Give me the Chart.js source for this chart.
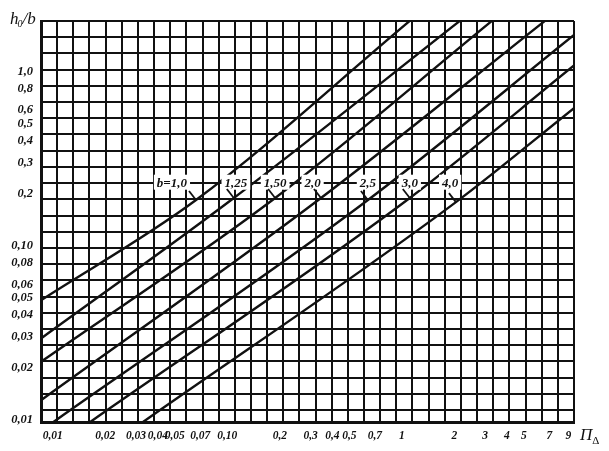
<!DOCTYPE html>
<html>
<head>
<meta charset="utf-8">
<script src="https://cdn.jsdelivr.net/npm/chart.js@4.4.0/dist/chart.umd.min.js"></script>
<style>
  html, body { margin: 0; padding: 0; background: #fff; }
  #wrap { width: 609px; height: 451px; position: relative; }
</style>
</head>
<body>
<div id="wrap"><canvas id="chart"></canvas></div>
<script>
// axis ranges (log scales)
const xMin = 0.00857, xMax = 9.68;
const yMin = 0.00975, yMax = 1.947;

const xTickValues = [0.01, 0.02, 0.03, 0.04, 0.05, 0.07, 0.1, 0.2, 0.3, 0.4, 0.5, 0.7, 1, 2, 3, 4, 5, 7, 9];
const xTickLabels = ['0,01', '0,02', '0,03', '0,04', '0,05', '0,07', '0,10', '0,2', '0,3', '0,4', '0,5', '0,7', '1', '2', '3', '4', '5', '7', '9'];
const yTickValues = [1.0, 0.8, 0.6, 0.5, 0.4, 0.3, 0.2, 0.1, 0.08, 0.06, 0.05, 0.04, 0.03, 0.02, 0.01];
const yTickLabels = ['1,0', '0,8', '0,6', '0,5', '0,4', '0,3', '0,2', '0,10', '0,08', '0,06', '0,05', '0,04', '0,03', '0,02', '0,01'];

// one curve per b value: start, point under the label, end
const curveNames = ['b=1,0', '1,25', '1,50', '2,0', '2,5', '3,0', '4,0'];
const curveX = [
  [0.00857, 0.0662, 1.11],
  [0.00857, 0.109, 2.15],
  [0.00857, 0.188, 3.28],
  [0.00857, 0.344, 6.60],
  [0.0101, 0.639, 9.68],
  [0.0164, 1.11, 9.68],
  [0.0329, 2.04, 9.68]
];
const curveY = [
  [0.0487, 0.183, 1.95],
  [0.0294, 0.188, 1.95],
  [0.0216, 0.188, 1.95],
  [0.0130, 0.188, 1.95],
  [0.00975, 0.183, 1.618],
  [0.00975, 0.188, 1.081],
  [0.00975, 0.178, 0.616]
];
// where the b labels sit
const labelX = [0.0482, 0.112, 0.188, 0.308, 0.639, 1.11, 1.89];
const labelRowY = 0.230;

// uniform grid: 33 columns, rows of the same size counted from the top
const xCols = 33;
const yRowStep = 0.0930;
const yRows = 24;

const serif = "'Liberation Serif', 'DejaVu Serif', serif";
const ink = '#111';

function gridTicks(values, labels, gridValues) {
  const t = gridValues.map(v => ({ value: v, grid: true }));
  values.forEach((v, i) => t.push({ value: v, lbl: labels[i] }));
  return t.sort((a, b) => a.value - b.value);
}

const xGrid = Array.from({ length: xCols + 1 }, (_, k) =>
  Math.pow(10, Math.log10(xMin) + k * (Math.log10(xMax) - Math.log10(xMin)) / xCols));
const yGrid = Array.from({ length: yRows + 1 }, (_, k) => yMax / Math.pow(10, k * yRowStep));

const datasets = curveNames.map((name, i) => ({
  label: name,
  data: curveX[i].map((x, j) => ({ x: x, y: curveY[i][j] })),
  borderColor: ink,
  borderWidth: 2.4,
  pointRadius: 0,
  cubicInterpolationMode: 'monotone',
  fill: false
}));

const gridColor = ctx => (ctx.tick && ctx.tick.grid) ? ink : 'rgba(0,0,0,0)';

const textPlugin = {
  id: 'nomoText',
  afterDatasetsDraw(chart) {
    const { ctx, scales } = chart;
    ctx.save();
    // b labels with white boxes
    ctx.font = 'italic bold 13px ' + serif;
    ctx.textAlign = 'center';
    ctx.textBaseline = 'middle';
    const py = scales.y.getPixelForValue(labelRowY);
    curveNames.forEach((name, i) => {
      const px = scales.x.getPixelForValue(labelX[i]);
      const w = ctx.measureText(name).width;
      ctx.fillStyle = '#fff';
      ctx.fillRect(px - w / 2 - 3, py - 8, w + 6, 15);
      ctx.fillStyle = ink;
      ctx.fillText(name, px, py + 1);
    });
    // leaders from label to curve
    ctx.strokeStyle = ink;
    ctx.lineWidth = 1.8;
    curveNames.forEach((name, i) => {
      const p = chart.getDatasetMeta(i).data[1];
      ctx.beginPath();
      ctx.moveTo(p.x - 7, p.y - 9);
      ctx.lineTo(p.x, p.y);
      ctx.stroke();
    });
    ctx.restore();
  },
  afterDraw(chart) {
    const { ctx, chartArea } = chart;
    ctx.save();
    ctx.fillStyle = ink;
    ctx.textBaseline = 'alphabetic';
    ctx.textAlign = 'left';
    // y title h0/b
    let x = chartArea.left - 31, y = chartArea.top + 3;
    ctx.font = 'italic 17px ' + serif;
    ctx.fillText('h', x, y);
    x += ctx.measureText('h').width;
    ctx.font = 'italic 10px ' + serif;
    ctx.fillText('0', x - 1, y + 3);
    x += ctx.measureText('0').width - 1;
    ctx.font = 'italic 17px ' + serif;
    ctx.fillText('/b', x, y);
    // x title Π_Δ
    x = chartArea.right + 6; y = chartArea.bottom + 18;
    ctx.font = 'italic 17px ' + serif;
    ctx.fillText('Π', x, y);
    x += ctx.measureText('Π').width;
    ctx.font = '11px ' + serif;
    ctx.fillText('Δ', x, y + 4);
    ctx.restore();
  }
};

new Chart(document.getElementById('chart'), {
  type: 'line',
  data: { datasets: datasets },
  options: {
    responsive: true,
    maintainAspectRatio: false,
    animation: false,
    layout: { padding: { top: 21, right: 35, left: 0, bottom: 0 } },
    plugins: { legend: { display: false }, tooltip: { enabled: false }, title: { display: false } },
    scales: {
      x: {
        type: 'logarithmic',
        min: xMin,
        max: xMax,
        afterBuildTicks: s => { s.ticks = gridTicks(xTickValues, xTickLabels, xGrid); },
        afterFit: s => { s.height = 29; },
        grid: { color: gridColor, lineWidth: 2, drawTicks: false },
        border: { display: true, color: ink, width: 3 },
        ticks: {
          autoSkip: false,
          maxRotation: 0,
          minRotation: 0,
          padding: 7,
          color: ink,
          font: { family: serif, size: 11.5, style: 'italic', weight: 'bold' },
          callback: (v, i, t) => t[i].lbl || ''
        }
      },
      y: {
        type: 'logarithmic',
        min: yMin,
        max: yMax,
        afterBuildTicks: s => { s.ticks = gridTicks(yTickValues, yTickLabels, yGrid); },
        afterFit: s => { s.width = 41; },
        grid: { color: gridColor, lineWidth: 2, drawTicks: false },
        border: { display: true, color: ink, width: 3 },
        ticks: {
          autoSkip: false,
          padding: 8,
          color: ink,
          font: { family: serif, size: 12.5, style: 'italic', weight: 'bold' },
          callback: (v, i, t) => t[i].lbl || ''
        }
      }
    }
  },
  plugins: [textPlugin]
});
</script>
</body>
</html>
